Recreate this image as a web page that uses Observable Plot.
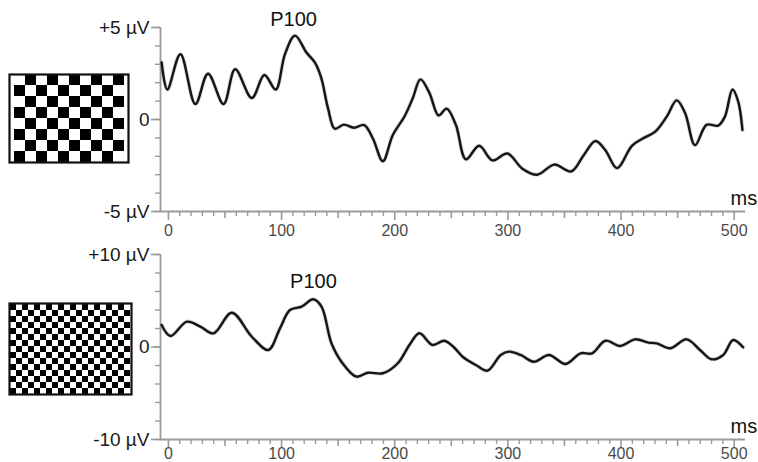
<!DOCTYPE html>
<html>
<head>
<meta charset="utf-8">
<script src="https://cdn.jsdelivr.net/npm/d3@7"></script>
<script src="https://cdn.jsdelivr.net/npm/@observablehq/plot@0.6"></script>
<style>
  html, body { margin: 0; padding: 0; background: #fff; }
  #chart { position: relative; width: 758px; height: 462px; overflow: hidden; font-family: "Liberation Sans", Arial, sans-serif; }
  #chart > div, #chart > svg { position: absolute; }
</style>
</head>
<body>
<div id="chart"></div>
<script>
// ---- data ----
const topTime = [-6, -1, 10.6, 23.8, 35, 48.7, 59, 73.7, 84.8, 94.8, 103, 111.8, 122, 129.4, 135, 141, 147, 155, 164, 173, 180.7, 189.5, 198.3, 208.6, 216, 222.7, 230.6, 238.8, 245.9, 254, 262.9, 274.6, 286.4, 299.6, 312.8, 326, 341, 356, 367, 377.4, 386.2, 396.4, 409.6, 418.4, 430.2, 440.4, 449.2, 456.6, 465.4, 475.6, 485.9, 491.8, 498.5, 503.5, 507.3];
const topValue = [3.1, 1.63, 3.55, 0.84, 2.49, 0.84, 2.73, 1.17, 2.42, 1.63, 3.55, 4.56, 3.64, 3.1, 2.27, 0.62, -0.5, -0.28, -0.45, -0.3, -1.03, -2.27, -0.84, 0.16, 1.17, 2.18, 1.45, 0.22, 0.59, -0.29, -2.16, -1.43, -2.22, -1.85, -2.67, -3.0, -2.45, -2.82, -1.94, -1.17, -1.67, -2.64, -1.43, -1.06, -0.66, 0.16, 1.04, 0.35, -1.39, -0.29, -0.33, 0.16, 1.63, 0.99, -0.57];

const bottomTime = [-6, 1.8, 16.4, 28.2, 39.9, 56, 73.7, 88.3, 98.6, 107.4, 117.7, 128, 135.3, 144.1, 152.9, 166.1, 176.3, 189.5, 202.7, 213, 221.8, 233.5, 243.8, 252, 260, 271.7, 282, 293.7, 301, 311.3, 323, 336.3, 351, 364.2, 374.4, 386.2, 399.4, 412.6, 424.3, 431.6, 443.4, 458, 469.8, 480, 490.3, 499.1, 507.9];
const bottomValue = [2.38, 1.19, 2.74, 2.2, 1.48, 3.71, 1.11, -0.32, 2.02, 4.0, 4.36, 5.16, 4.36, 0.4, -1.59, -3.21, -2.78, -2.84, -1.76, 0.22, 1.48, 0.22, 0.68, 0.0, -1.05, -1.95, -2.56, -0.86, -0.5, -0.86, -1.59, -0.86, -1.84, -0.68, -0.68, 0.68, 0.11, 0.83, 0.47, 0.4, -0.14, 0.83, -0.32, -1.33, -0.86, 0.76, -0.03];

const xTickLabels = [0, 100, 200, 300, 400, 500];
const xMidTicks = [50, 150, 250, 350, 450];
const xMinorTicks = d3.range(10, 510, 10).filter(d => d % 50 !== 0);

const topYLabels = [-5, 0, 5];
const topYTicks = d3.range(-5, 6, 1);
const bottomYLabels = [-10, 0, 10];
const bottomYTicks = d3.range(-10, 11, 2);

const topPeak = [{t: 110.6, v: 5.1, label: "P100"}];
const bottomPeak = [{t: 128.2, v: 6.4, label: "P100"}];
const topUnit = [{t: 508.5, v: -4.3, label: "ms"}];
const bottomUnit = [{t: 508.5, v: -8.65, label: "ms"}];

const topChecker = {cols: 10, rows: 8, firstBlack: 0};
const bottomChecker = {cols: 20, rows: 15, firstBlack: 1};

// ---- drawing ----
const FONT = "'Liberation Sans', Arial, Helvetica, sans-serif";
const AXIS = "#9a9a9a";
const xDomain = [-7, 510];

const fmtY = d => d > 0 ? `+${d} µV` : d < 0 ? `-${Math.abs(d)} µV` : "0";

function panel(time, value, yDom, yTicks, yLabels, peak, unit, opts) {
  const rows = time.map((t, i) => ({t, v: value[i]}));
  return Plot.plot({
    width: 758, height: 231,
    marginLeft: 160, marginRight: 13, marginTop: opts.mt, marginBottom: opts.mb,
    x: {domain: xDomain, axis: null, label: null},
    y: {domain: yDom, axis: null, label: null},
    style: {fontFamily: FONT, background: "transparent", overflow: "visible"},
    marks: [
      Plot.axisX(xMinorTicks, {anchor: "bottom", label: null, tickSize: 5, stroke: AXIS, strokeWidth: 1.4, tickFormat: () => ""}),
      Plot.axisX(xMidTicks, {anchor: "bottom", label: null, tickSize: 7, stroke: AXIS, strokeWidth: 1.6, tickFormat: () => ""}),
      Plot.axisX(xTickLabels, {anchor: "bottom", label: null, tickSize: 9, tickPadding: opts.xpad, stroke: AXIS, strokeWidth: 1.6,
        fill: "#4a4a4a", fontSize: 16, tickFormat: d => String(d)}),
      Plot.axisY(yTicks, {anchor: "left", label: null, tickSize: 5, stroke: AXIS, strokeWidth: 1.4, tickFormat: () => ""}),
      Plot.axisY(yLabels, {anchor: "left", label: null, tickSize: 9, tickPadding: 2, stroke: AXIS, strokeWidth: 1.6,
        fill: "#1a1a1a", fontSize: 19, tickFormat: fmtY}),
      Plot.ruleY([yDom[0]], {x1: xDomain[0], x2: xDomain[1], stroke: AXIS, strokeWidth: 1.8}),
      Plot.ruleX([xDomain[0]], {y1: yDom[0], y2: yDom[1], stroke: AXIS, strokeWidth: 1.8}),
      Plot.line(rows, {x: "t", y: "v", curve: "catmull-rom", stroke: "#8a8a8a", strokeWidth: 4, strokeOpacity: 0.35}),
      Plot.line(rows, {x: "t", y: "v", curve: "catmull-rom", stroke: "#151515", strokeWidth: 2.4}),
      Plot.text(peak, {x: "t", y: "v", text: "label", fontSize: 20, fill: "#111", lineAnchor: "bottom"}),
      Plot.text(unit, {x: "t", y: "v", text: "label", fontSize: 20, fill: "#111"})
    ]
  });
}

function checker(spec, w, h) {
  const cells = [];
  for (let r = 0; r < spec.rows; r++)
    for (let c = 0; c < spec.cols; c++)
      cells.push({c, r, black: (r + c + spec.firstBlack) % 2 === 1});
  return Plot.plot({
    width: w, height: h, margin: 0,
    x: {domain: d3.range(spec.cols), axis: null, padding: 0},
    y: {domain: d3.range(spec.rows), axis: null, padding: 0},
    style: {background: "#fff", overflow: "visible"},
    marks: [
      Plot.cell(cells, {x: "c", y: "r", fill: d => d.black ? "#000" : "#fff"}),
      Plot.frame({stroke: "#111", strokeWidth: 2.2})
    ]
  });
}

const root = document.getElementById("chart");

const p1 = panel(topTime, topValue, [-5, 5], topYTicks, topYLabels, topPeak, topUnit, {mt: 27, mb: 20, xpad: 4});
p1.style.left = "0px"; p1.style.top = "0px";
root.appendChild(p1);

const p2 = panel(bottomTime, bottomValue, [-10, 10], bottomYTicks, bottomYLabels, bottomPeak, bottomUnit, {mt: 23, mb: 23, xpad: -1});
p2.style.left = "0px"; p2.style.top = "231px";
root.appendChild(p2);

const c1 = checker(topChecker, 119, 88);
c1.style.left = "9px"; c1.style.top = "74px";
root.appendChild(c1);

const c2 = checker(bottomChecker, 122, 91);
c2.style.left = "9px"; c2.style.top = "303px";
root.appendChild(c2);
</script>
</body>
</html>
